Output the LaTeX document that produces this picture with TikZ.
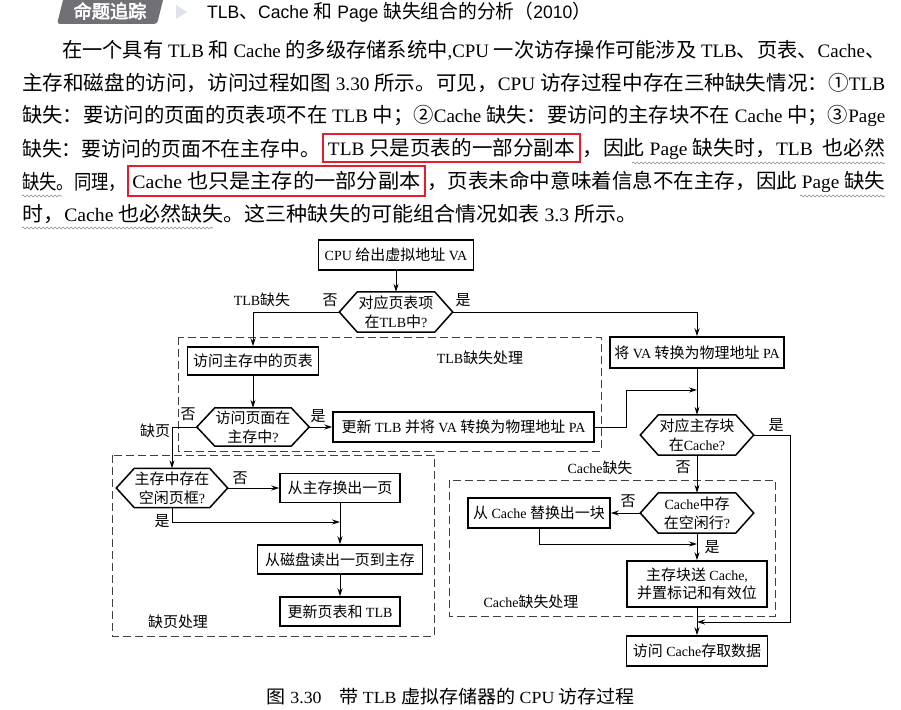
\documentclass[tikz,border=0pt]{standalone}
\usepackage{fontspec}
\usepackage{graphicx}
\usetikzlibrary{arrows.meta,calc,decorations.pathmorphing}
\setmainfont{Liberation Serif}
\newfontfamily\hdfont{Liberation Sans}
\newfontfamily\cjkfont[Scale=1.07]{Noto Sans CJK SC}
\newfontfamily\cjkbold[Scale=1.07,FakeBold=3]{Noto Sans CJK SC}
\def\curcjk{\cjkfont}

% switch to the CJK family around every run of Chinese characters
\XeTeXinterchartokenstate=1
\newXeTeXintercharclass\CJKcls
\newcount\cjkcnt
\def\cjkrange#1#2{\cjkcnt=#1\relax
  \loop\XeTeXcharclass\cjkcnt=\CJKcls
  \ifnum\cjkcnt<#2\advance\cjkcnt by 1\repeat}
\cjkrange{"2460}{"24FF}
\cjkrange{"3000}{"303F}
\cjkrange{"4E00}{"9FFF}
\cjkrange{"FF00}{"FFEF}
\XeTeXinterchartoks 0 \CJKcls = {\begingroup\curcjk}
\XeTeXinterchartoks 4095 \CJKcls = {\begingroup\curcjk}
\XeTeXinterchartoks \CJKcls 0 = {\endgroup}
\XeTeXinterchartoks \CJKcls 4095 = {\endgroup}

\definecolor{markred}{RGB}{226,30,42}
\definecolor{tabgray}{RGB}{112,112,118}
\definecolor{tabarrow}{RGB}{222,226,236}

\tikzset{
  para/.style={anchor=west, inner sep=0pt, font=\fontsize{19}{21}\selectfont},
  redbox/.style={draw=markred, line width=1.5pt, inner sep=0pt, font=\fontsize{19}{21}\selectfont},
  wavy/.style={draw=black!45, line width=0.6pt, decorate,
    decoration={snake, amplitude=0.9pt, segment length=4pt}},
  stepbox/.style={draw, line width=1.5pt, inner sep=1pt, align=center,
    font=\fontsize{14}{18.5}\selectfont},
  hexn/.style={inner sep=0pt, minimum width=113pt, minimum height=40pt,
    align=center, font=\fontsize{14}{19}\selectfont},
  hexline/.style={draw, line width=1.5pt},
  lbl/.style={inner sep=0pt, font=\fontsize{14}{16}\selectfont},
  conn/.style={line width=0.9pt, -{Stealth[length=8pt,width=5pt]}},
  plain/.style={line width=0.9pt},
  dbox/.style={draw=black!75, line width=0.9pt, dash pattern=on 8pt off 4pt}
}

% hexagonal decision outline around a named node
\newcommand\hexof[1]{%
  \draw[hexline] (#1.west) -- ([xshift=18pt]#1.north west)
    -- ([xshift=-18pt]#1.north east) -- (#1.east)
    -- ([xshift=-18pt]#1.south east) -- ([xshift=18pt]#1.south west) -- cycle;}

\begin{document}
\begin{tikzpicture}[x=1pt,y=-1pt]
\fill[white] (0,0) rectangle (901,709);
\useasboundingbox (0,0) rectangle (901,709);

% ---- heading ----
\fill[tabgray, rounded corners=3pt] (64,-4) -- (164,-4) -- (157,24) -- (57,24) -- cycle;
\node[inner sep=0pt, text=white, font=\fontsize{17}{19}\selectfont] (tab) at (110,11)
  {\def\curcjk{\cjkbold}命题追踪};
\fill[tabarrow] (176,5) -- (187,12) -- (176,19) -- cycle;
\node[anchor=west, inner sep=0pt, font=\fontsize{18}{20}\selectfont] (head) at (207,12)
  {\resizebox{384pt}{\height}{\hdfont TLB、Cache 和 Page 缺失组合的分析（2010）}};

% ---- paragraph ----
\node[para] (l1) at (62,50) {\resizebox{823pt}{\height}{在一个具有 TLB 和 Cache 的多级存储系统中,CPU 一次访存操作可能涉及 TLB、页表、Cache、}};
\node[para] (l2) at (22,83) {\resizebox{863pt}{\height}{主存和磁盘的访问，访问过程如图 3.30 所示。可见，CPU 访存过程中存在三种缺失情况：①TLB}};
\node[para] (l3) at (22,116) {\resizebox{863pt}{\height}{缺失：要访问的页面的页表项不在 TLB 中；②Cache 缺失：要访问的主存块不在 Cache 中；③Page}};
\node[para] (l4a) at (22,149) {\resizebox{298pt}{\height}{缺失：要访问的页面不在主存中。}};
\node[redbox, minimum width=257pt, minimum height=28pt] (r1) at (451.5,148)
  {\resizebox{247pt}{\height}{TLB 只是页表的一部分副本}};
\node[para] (l4c) at (582,149) {\resizebox{303pt}{\height}{，因此 Page 缺失时，TLB\ \ 也必然}};
\node[para] (l5a) at (22,182) {\resizebox{104pt}{\height}{缺失。同理，}};
\node[redbox, minimum width=297pt, minimum height=30pt] (r2) at (276.5,181)
  {\resizebox{288pt}{\height}{Cache 也只是主存的一部分副本}};
\node[para] (l5c) at (427,182) {\resizebox{458pt}{\height}{，页表未命中意味着信息不在主存，因此 Page 缺失}};
\node[para] (l6) at (22,214) {\resizebox{615pt}{\height}{时，Cache 也必然缺失。这三种缺失的可能组合情况如表 3.3 所示。}};

\draw[wavy] (632,163) -- (885,163);
\draw[wavy] (22,196) -- (62,196);
\draw[wavy] (800,196) -- (885,196);
\draw[wavy] (22,228) -- (213,228);

% ---- handling regions ----
\draw[dbox] (178,337) rectangle (601,451);
\draw[dbox] (112,455) rectangle (434,636);
\draw[dbox] (449,480) rectangle (775,616);

% ---- main path ----
\node[stepbox, minimum width=155pt, minimum height=30pt] (cpu) at (396,255) {CPU 给出虚拟地址 VA};
\node[hexn] (d1) at (396,312) {对应页表项\\在TLB中?};
\hexof{d1}
\node[stepbox, minimum width=174pt, minimum height=31pt] (pa) at (697,352.5) {将 VA 转换为物理地址 PA};
\node[hexn] (d3) at (697,435) {对应主存块\\在Cache?};
\hexof{d3}
\node[hexn] (d4) at (697,513) {Cache中存\\在空闲行?};
\hexof{d4}
\node[stepbox, minimum width=142pt, minimum height=30pt] (rep) at (539,513) {从 Cache 替换出一块};
\node[stepbox, minimum width=140pt, minimum height=46pt] (send) at (697,584) {主存块送 Cache,\\并置标记和有效位};
\node[stepbox, minimum width=141pt, minimum height=30pt] (acc) at (697,651) {访问 Cache存取数据};

% ---- TLB miss handling ----
\node[stepbox, minimum width=131pt, minimum height=28pt] (pt) at (253,361) {访问主存中的页表};
\node[hexn, minimum width=112pt, minimum height=38pt] (d2) at (253,427) {访问页面在\\主存中?};
\hexof{d2}
\node[stepbox, minimum width=261pt, minimum height=30pt] (upd) at (463.5,427) {更新 TLB 并将 VA 转换为物理地址 PA};

% ---- page fault handling ----
\node[hexn, minimum width=111pt, minimum height=39pt] (d5) at (172,488) {主存中存在\\空闲页框?};
\hexof{d5}
\node[stepbox, minimum width=120pt, minimum height=29pt] (out) at (340,488) {从主存换出一页};
\node[stepbox, minimum width=165pt, minimum height=29pt] (read) at (340,559.5) {从磁盘读出一页到主存};
\node[stepbox, minimum width=120pt, minimum height=29pt] (pg) at (340,611.5) {更新页表和 TLB};

% ---- junction points on the vertical flows ----
\coordinate (j1) at (697,390);
\coordinate (j2) at (697,544);
\coordinate (j3) at (697,622);
\coordinate (j4) at (340,522);

% ---- connectors ----
\draw[conn] (cpu.south) -- (d1.north);
\draw[conn] (d1.west) -| (pt.north);
\draw[conn] (d1.east) -| (pa.north);
\draw[conn] (pa.south) -- (d3.north);
\draw[conn] (upd.east) -- ++(32,0) |- (j1);
\draw[conn] (d3.east) -- ++(37,0) |- (j3);
\draw[conn] (d3.south) -- (d4.north);
\draw[conn] (d4.west) -- (rep.east);
\draw[conn] (rep.south) |- (j2);
\draw[conn] (d4.south) -- (send.north);
\draw[conn] (send.south) -- (acc.north);
\draw[conn] (pt.south) -- (d2.north);
\draw[conn] (d2.east) -- (upd.west);
\draw[conn] (d2.west) -| (d5.north);
\draw[conn] (d5.east) -- (out.west);
\draw[conn] (out.south) -- (read.north);
\draw[conn] (d5.south) |- (j4);
\draw[conn] (read.south) -- (pg.north);

% ---- branch labels ----
\node[lbl] (t1) at (262,300) {TLB缺失};
\node[lbl] (n1) at (330,300) {否};
\node[lbl] (y1) at (463,300) {是};
\node[lbl] (n2) at (188,414) {否};
\node[lbl] (y2) at (318,416) {是};
\node[lbl] (t2) at (155,431) {缺页};
\node[lbl] (n5) at (240,478) {否};
\node[lbl] (y5) at (162,521) {是};
\node[lbl] (y3) at (776,425) {是};
\node[lbl] (n3) at (683,467) {否};
\node[lbl] (t3) at (600,468) {Cache缺失};
\node[lbl] (n4) at (628,501) {否};
\node[lbl] (y4) at (712,547) {是};
\node[lbl] (a1) at (480,358) {TLB缺失处理};
\node[lbl] (a2) at (178,622) {缺页处理};
\node[lbl] (a3) at (531,602) {Cache缺失处理};

% ---- caption ----
\node[inner sep=0pt, font=\fontsize{17}{19}\selectfont] (cap) at (451,697)
  {\resizebox{368pt}{\height}{图 3.30\quad 带 TLB 虚拟存储器的 CPU 访存过程}};
\end{tikzpicture}
\end{document}
